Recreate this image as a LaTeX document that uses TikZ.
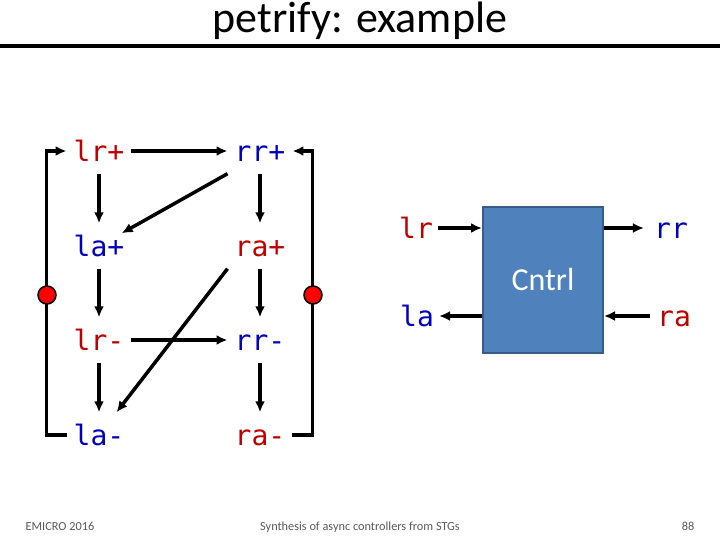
\documentclass[tikz,border=0pt]{standalone}
\usepackage{fontspec}
\setmainfont{Carlito}
\newfontfamily\sigfont{DejaVu Sans Mono}
\usetikzlibrary{arrows.meta}
\definecolor{sigred}{RGB}{192,0,0}
\definecolor{sigblue}{RGB}{0,0,192}
\definecolor{boxfill}{RGB}{79,129,189}
\definecolor{boxline}{RGB}{56,93,138}
\definecolor{footgrey}{RGB}{89,89,89}
\begin{document}
\begin{tikzpicture}[
    x=1pt, y=-1pt,
    sig/.style={inner xsep=7pt, inner ysep=12pt, text height=21pt, text depth=0pt, font=\sigfont\fontsize{28}{32}\selectfont},
    rsig/.style={sig, text=sigred},
    bsig/.style={sig, text=sigblue},
    port/.style={inner xsep=5pt, inner ysep=4pt},
    arc/.style={line width=3.5pt, -{Latex[length=11pt,width=10pt]}},
    place/.style={circle, draw, line width=1.5pt, fill=red, minimum size=18pt, inner sep=0pt},
    ctrl/.style={rectangle, draw=boxline, line width=2pt, fill=boxfill, minimum width=120pt, minimum height=145pt, text=white, font=\fontsize{32}{36}\selectfont},
    foot/.style={anchor=base, text=footgrey, font=\fontsize{12.3}{14}\selectfont}
]
\useasboundingbox (0,0) rectangle (720,540);
\fill[white] (0,0) rectangle (720,540);

% Titre
\node (title) at (360,21) {\fontsize{44}{48}\selectfont petrify: example};
\draw[line width=4pt] (0,46) -- (720,46);

% STG
\node[rsig] (lrp) at (99,151) {lr+};
\node[bsig] (rrp) at (260,151) {rr+};
\node[bsig] (lap) at (99,246) {la+};
\node[rsig] (rap) at (260,246) {ra+};
\node[rsig] (lrm) at (99,340) {lr-};
\node[bsig] (rrm) at (260,340) {rr-};
\node[bsig] (lam) at (99,435) {la-};
\node[rsig] (ram) at (260,435) {ra-};

% Arcs
\foreach \a/\b in {lrp/lap, lap/lrm, lrm/lam, rrp/rap, rap/rrm, rrm/ram, lrp/rrp, lrm/rrm}
    \draw[arc] (\a) -- (\b);
\draw[arc, shorten >=26pt] (rrp.south west) -- (lap.center);
\draw[arc] (rap.south west) -- (lam);

% Places (boucles)
\draw[arc] (lam.west) -- ++(-20,0) |- (lrp.west);
\draw[arc] (ram.east) -- ++(20,0) |- (rrp.east);
\node[place] (pl) at (47,295) {};
\node[place] (pr) at (313,295) {};

% Controleur
\node[ctrl] (cntrl) at (543,280) {Cntrl};
\node[rsig, port] (lr) at (416,228) {lr};
\node[bsig, port, inner xsep=10pt] (rr) at (671,228) {rr};
\node[bsig, port] (la) at (417,316) {la};
\node[rsig, port, inner xsep=7pt] (ra) at (674,316) {ra};
\draw[arc] (lr.east) -- (cntrl.west |- lr.east);
\draw[arc] (cntrl.east |- rr.west) -- (rr.west);
\draw[arc] (cntrl.west |- la.east) -- (la.east);
\draw[arc] (ra.west) -- (cntrl.east |- ra.west);

% Pied de page
\node[foot] (conf) at (60,530) {EMICRO 2016};
\node[foot] (subj) at (360,530) {Synthesis of async controllers from STGs};
\node[foot] (page) at (688,530) {88};

\end{tikzpicture}
\end{document}
